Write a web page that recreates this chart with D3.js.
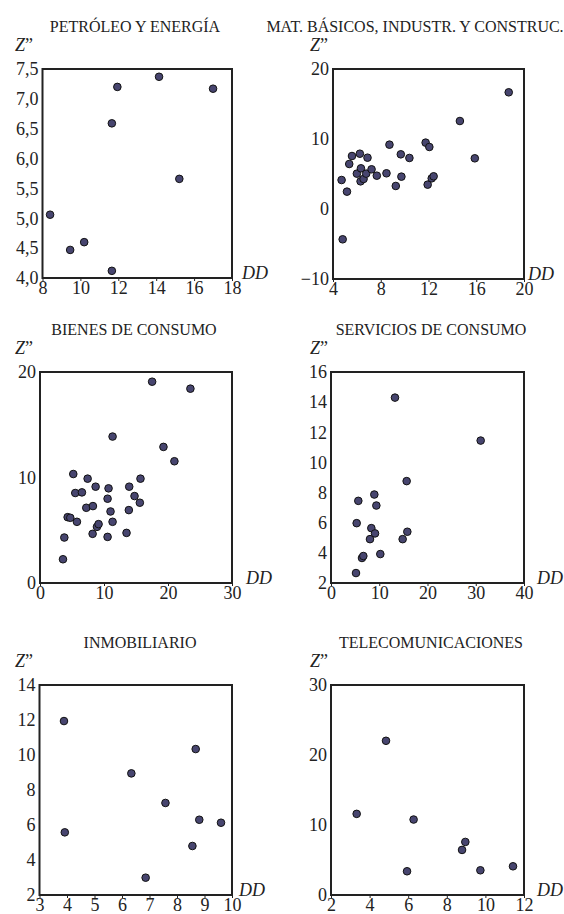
<!DOCTYPE html>
<html>
<head>
<meta charset="utf-8">
<script src="https://cdn.jsdelivr.net/npm/d3@7"></script>
<style>
  body { margin: 0; background: #fff; }
  svg text { font-family: "Times New Roman", "Liberation Serif", Tinos, "DejaVu Serif", serif; }
</style>
</head>
<body>
<svg id="chart" width="564" height="914"></svg>
<script>
// sector titles
const titles = ["PETRÓLEO Y ENERGÍA", "MAT. BÁSICOS, INDUSTR. Y CONSTRUC.", "BIENES DE CONSUMO",
  "SERVICIOS DE CONSUMO", "INMOBILIARIO", "TELECOMUNICACIONES"];

// axis domains and tick values
const xDomains = [[8, 18], [4, 20], [0, 30], [0, 40], [3, 10], [2, 12]];
const yDomains = [[4, 7.5], [-10, 20], [0, 20], [2, 16], [2, 14], [0, 30]];
const xTicks = [[8, 10, 12, 14, 16, 18], [4, 8, 12, 16, 20], [0, 10, 20, 30], [0, 10, 20, 30, 40],
  [3, 4, 5, 6, 7, 8, 9, 10], [2, 4, 6, 8, 10, 12]];
const yTicks = [[4, 4.5, 5, 5.5, 6, 6.5, 7, 7.5], [-10, 0, 10, 20], [0, 10, 20], [2, 4, 6, 8, 10, 12, 14, 16],
  [2, 4, 6, 8, 10, 12, 14], [0, 10, 20, 30]];

// points [DD, Z'']
const petroleo = [[8.4, 5.06], [9.46, 4.47], [10.2, 4.6], [11.66, 4.12], [11.66, 6.59], [11.95, 7.2],
  [14.15, 7.37], [15.22, 5.66], [17.0, 7.17]];
const materiales = [[4.72, 4.14], [4.81, -4.33], [5.17, 2.48], [5.36, 6.43], [5.59, 7.57], [6.0, 5.05],
  [6.25, 7.9], [6.34, 5.81], [6.31, 3.95], [6.56, 4.29], [6.78, 5.05], [6.89, 7.33], [7.23, 5.67],
  [7.67, 4.76], [8.48, 5.1], [8.73, 9.19], [9.26, 3.29], [9.68, 7.81], [9.73, 4.62], [10.4, 7.29],
  [11.76, 9.48], [12.07, 8.86], [11.93, 3.48], [12.27, 4.38], [12.43, 4.67], [14.63, 12.57],
  [15.88, 7.24], [18.72, 16.67]];
const bienes = [[3.59, 2.25], [3.8, 4.31], [4.32, 6.24], [4.73, 6.18], [5.2, 10.33], [5.51, 8.53],
  [5.77, 5.8], [6.55, 8.59], [7.23, 7.13], [7.44, 9.89], [8.27, 7.29], [8.22, 4.66], [8.69, 9.13],
  [8.9, 5.32], [9.15, 5.58], [10.56, 4.37], [10.56, 7.99], [10.71, 8.97], [11.02, 6.78], [11.34, 5.8],
  [11.34, 13.88], [13.52, 4.75], [13.88, 6.91], [13.94, 9.13], [14.77, 8.24], [15.6, 7.61],
  [15.7, 9.89], [17.52, 19.08], [19.29, 12.9], [21.0, 11.54], [23.5, 18.42]];
const servicios = [[5.18, 2.66], [5.32, 5.97], [5.66, 7.45], [6.42, 3.66], [6.7, 3.79], [8.08, 4.91],
  [8.36, 5.64], [8.98, 7.87], [9.12, 5.29], [9.4, 7.14], [10.22, 3.92], [13.26, 14.3], [14.85, 4.91],
  [15.68, 8.76], [15.82, 5.4], [31.02, 11.45]];
const inmobiliario = [[3.89, 11.94], [3.92, 5.58], [6.34, 8.95], [6.86, 2.99], [7.58, 7.26],
  [8.56, 4.8], [8.68, 10.34], [8.81, 6.3], [9.6, 6.13]];
const telecom = [[3.33, 11.59], [4.85, 22.03], [5.94, 3.39], [6.28, 10.78], [8.79, 6.44], [8.96, 7.58],
  [9.74, 3.53], [11.43, 4.1]];
const series = [petroleo, materiales, bienes, servicios, inmobiliario, telecom];

// panel boxes in page pixels
const boxes = [
  {x0: 42.5, y0: 69, x1: 232, y1: 278, titleX: 135, ddDx: 10},
  {x0: 333, y0: 69, x1: 524, y1: 279, titleX: 415, ddDx: 4},
  {x0: 40, y0: 372, x1: 232, y1: 583, titleX: 134, ddDx: 14},
  {x0: 331, y0: 372, x1: 524, y1: 583, titleX: 431, ddDx: 13},
  {x0: 39.5, y0: 685, x1: 232, y1: 895, titleX: 140, ddDx: 7},
  {x0: 331, y0: 685, x1: 524, y1: 895, titleX: 431, ddDx: 13}
];

const svg = d3.select("#chart");
const fmt1 = d => d3.format(".1f")(d).replace(".", ",");
const fmtInt = d3.format("d");

series.forEach((data, i) => {
  const b = boxes[i];
  const x = d3.scaleLinear().domain(xDomains[i]).range([b.x0, b.x1]);
  const y = d3.scaleLinear().domain(yDomains[i]).range([b.y1, b.y0]);
  const g = svg.append("g");

  g.append("text")
    .attr("x", b.titleX).attr("y", b.y0 - 37)
    .attr("text-anchor", "middle")
    .attr("font-size", 16).attr("fill", "#222")
    .text(titles[i]);

  const xAxis = g.append("g")
    .attr("transform", `translate(0,${b.y1})`)
    .call(d3.axisBottom(x).tickValues(xTicks[i]).tickFormat(fmtInt)
      .tickSize(3).tickPadding(0).tickSizeOuter(0));
  const yAxis = g.append("g")
    .attr("transform", `translate(${b.x0},0)`)
    .call(d3.axisLeft(y).tickValues(yTicks[i]).tickSize(0).tickPadding(4)
      .tickFormat(i === 0 ? fmt1 : fmtInt));

  [xAxis, yAxis].forEach(a => {
    a.select(".domain").remove();
    a.attr("font-family", null);
    a.selectAll("text").attr("font-size", 18).attr("fill", "#222");
    a.selectAll("line").attr("stroke", "#222");
  });
  xAxis.selectAll("text").attr("dy", "0.7em");

  g.append("rect")
    .attr("x", b.x0).attr("y", b.y0)
    .attr("width", b.x1 - b.x0).attr("height", b.y1 - b.y0)
    .attr("fill", "none").attr("stroke", "#222").attr("stroke-width", 2);

  g.selectAll("circle")
    .data(data)
    .enter().append("circle")
    .attr("cx", d => x(d[0]))
    .attr("cy", d => y(d[1]))
    .attr("r", 3.8)
    .attr("fill", "#47456f")
    .attr("stroke", "#111")
    .attr("stroke-width", 1);

  const zl = g.append("text")
    .attr("x", i % 2 === 0 ? 15 : 310).attr("y", b.y0 - 18)
    .attr("font-size", 18).attr("fill", "#222");
  zl.append("tspan").attr("font-style", "italic").text("Z");
  zl.append("tspan").text("\u201D");

  g.append("text")
    .attr("x", b.x1 + b.ddDx).attr("y", b.y1 + 1)
    .attr("font-size", 18).attr("font-style", "italic").attr("fill", "#222")
    .text("DD");
});
</script>
</body>
</html>
